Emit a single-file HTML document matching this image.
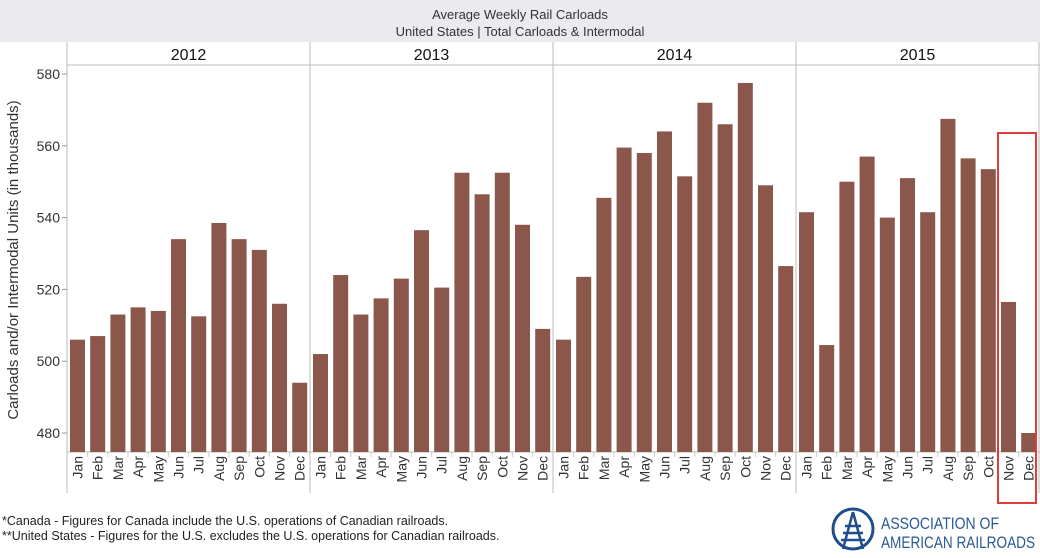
<!DOCTYPE html>
<html><head><meta charset="utf-8"><style>
body{margin:0;background:#fff;font-family:"Liberation Sans",Arial,sans-serif;}
svg text{font-family:"Liberation Sans",Arial,sans-serif;}
</style></head><body>
<svg width="1040" height="553" xmlns="http://www.w3.org/2000/svg">
<rect x="0" y="0" width="1040" height="42" fill="#ebebef"/>
<text x="520" y="19" font-size="13" text-anchor="middle" fill="#333">Average Weekly Rail Carloads</text>
<text x="520" y="36" font-size="13" text-anchor="middle" fill="#333">United States | Total Carloads &amp; Intermodal</text>
<text transform="translate(18,260) rotate(-90)" font-size="15" text-anchor="middle" fill="#333">Carloads and/or Intermodal Units (in thousands)</text>
<g id="plot"></g>
<rect x="998" y="133" width="38" height="370" fill="none" stroke="#e03c3c" stroke-width="2"/>
<text x="2" y="525" font-size="12.5" fill="#222">*Canada - Figures for Canada include the U.S. operations of Canadian railroads.</text>
<text x="2" y="540" font-size="12.5" fill="#222">**United States - Figures for the U.S. excludes the U.S. operations for Canadian railroads.</text>
<g>
<circle cx="853" cy="529" r="20" fill="none" stroke="#1f4e8c" stroke-width="3"/>
<path d="M853 512 L843 549 M853 512 L863 549 M845 526 H861 M843 533 H863 M841 540 H865" stroke="#1f4e8c" stroke-width="2.5" fill="none"/>
<text x="881" y="529" font-size="17" fill="#2a5a96" textLength="118" lengthAdjust="spacingAndGlyphs">ASSOCIATION OF</text>
<text x="881" y="548" font-size="17" fill="#2a5a96" textLength="154" lengthAdjust="spacingAndGlyphs">AMERICAN RAILROADS</text>
</g>
</svg>
<script>
const years = ["2012","2013","2014","2015"];
const months = ["Jan","Feb","Mar","Apr","May","Jun","Jul","Aug","Sep","Oct","Nov","Dec"];
const v2012 = [506,507,513,515,514,534,512.5,538.5,534,531,516,494];
const v2013 = [502,524,513,517.5,523,536.5,520.5,552.5,546.5,552.5,538,509];
const v2014 = [506,523.5,545.5,559.5,558,564,551.5,572,566,577.5,549,526.5];
const v2015 = [541.5,504.5,550,557,540,551,541.5,567.5,556.5,553.5,516.5,480];
const yTicks = [480,500,520,540,560,580];
const series = [v2012,v2013,v2014,v2015];
const NS="http://www.w3.org/2000/svg";
const g=document.getElementById('plot');
const x0=67, panelW=243, plotTop=65, base=452;
const y=v=>74+(580-v)*(433-74)/100;
const xb=(p,m)=>x0+p*panelW+3+m*20.2;
function mk(t,a){const e=document.createElementNS(NS,t);for(const k in a)e.setAttribute(k,a[k]);g.appendChild(e);return e;}
for(let p=0;p<=4;p++){
  const l=mk('line',{x1:x0+p*panelW,x2:x0+p*panelW,y1:42,y2:493,stroke:'#bbb'});
  
  
}
const hl=mk('line',{x1:x0,x2:1040,y1:plotTop,y2:plotTop,stroke:'#bbb'});


const bl=mk('line',{x1:x0,x2:1040,y1:base,y2:base,stroke:'#bbb'});


yTicks.forEach(t=>{
  const tk=mk('line',{x1:x0-5,x2:x0,y1:y(t),y2:y(t),stroke:'#999'});
  
  
  const tx=mk('text',{x:x0-7,y:y(t)+5,'font-size':14,'text-anchor':'end',fill:'#333'});
  tx.textContent=t;
  
  
});
years.forEach((yr,p)=>{
  const t=mk('text',{x:x0+p*panelW+panelW/2,y:60,'font-size':16,'text-anchor':'middle',fill:'#111'});
  t.textContent=yr;
  
  
  series[p].forEach((v,m)=>{
    const r=mk('rect',{x:xb(p,m),y:y(v),width:15,height:base-y(v),fill:'#8b574b'});
    
    
    const cx=xb(p,m)+7.5;
    const tk=mk('line',{x1:cx+10.1,x2:cx+10.1,y1:base,y2:base+5,stroke:'#ccc'});
    
    
    const ml=mk('text',{transform:`translate(${cx+5},${base+4}) rotate(-90)`,'font-size':14,'text-anchor':'end',fill:'#333'});
    ml.textContent=months[m];
    
    
  });
});
</script>
</body></html>
